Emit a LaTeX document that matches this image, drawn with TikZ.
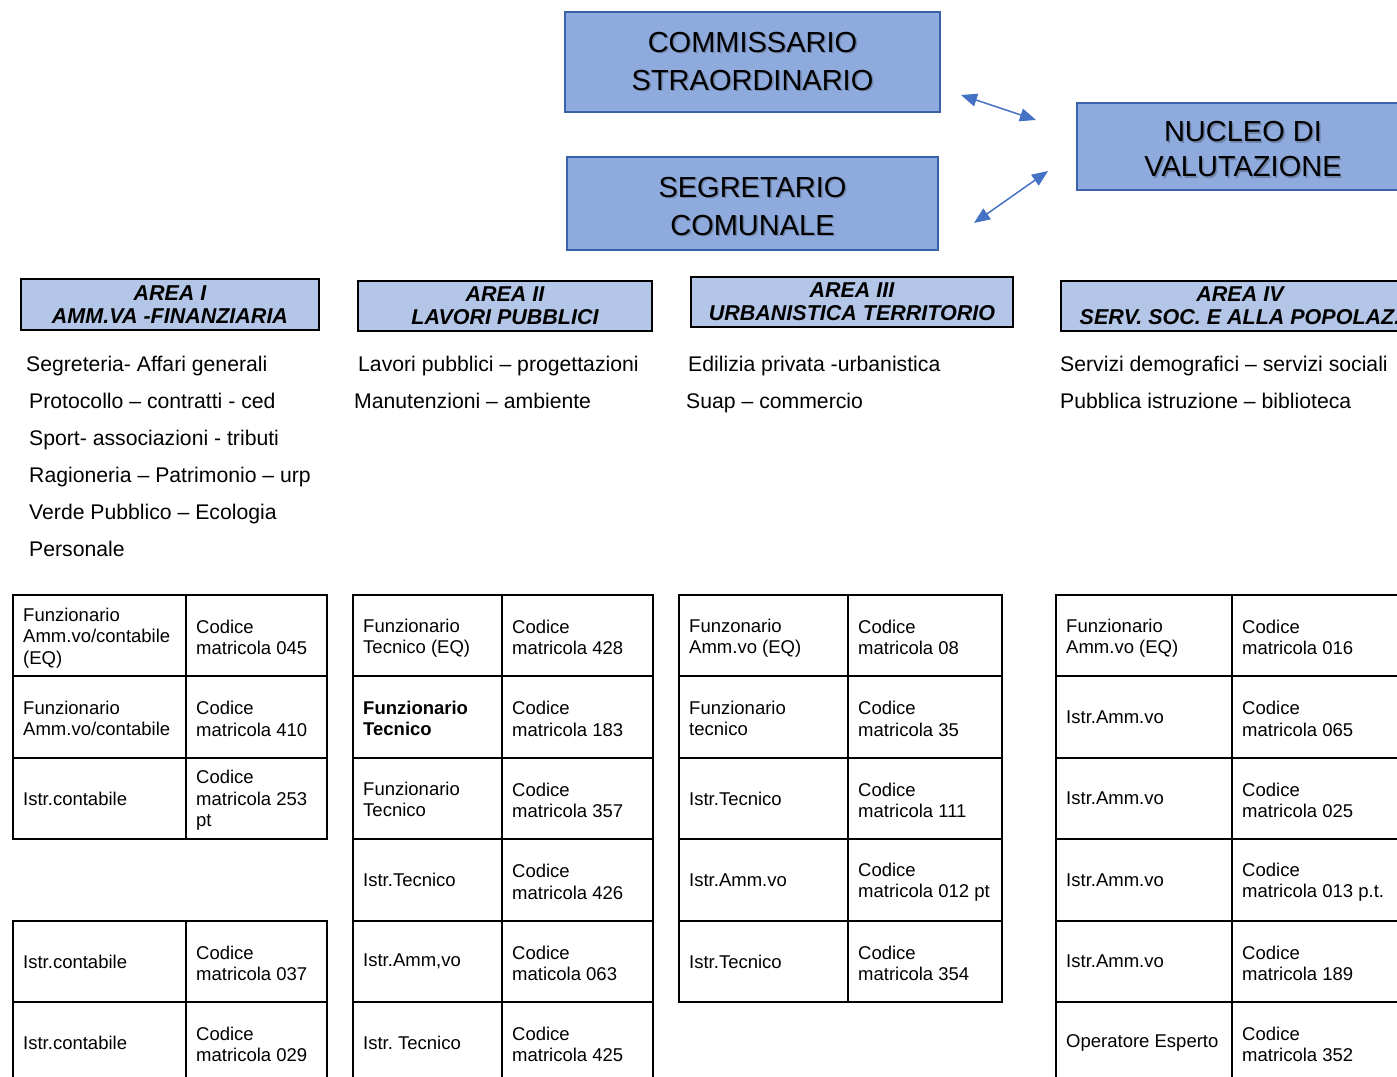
\documentclass[tikz,border=0pt]{standalone}
\usepackage{fontspec}
\setmainfont{Liberation Sans}
\usetikzlibrary{arrows.meta}
\frenchspacing
\definecolor{topfill}{HTML}{8FAADC}
\definecolor{topborder}{HTML}{3A62A8}
\definecolor{areafill}{HTML}{B4C6E7}
\definecolor{arrowblue}{HTML}{4472C4}
\newcommand\cellrow[9]{%
  \draw[cellline] (#2,#5) rectangle (#3,#6) (#3,#5) rectangle (#4,#6);
  \node[celltext] (#1L) at ({#2+10},{(#5+#6)/2+#9}) {#7};
  \node[celltext] (#1R) at ({#3+10},{(#5+#6)/2+2}) {#8};
}
\newcommand\toptitle[4]{%
  \node[topshadow] (#1S) at ({#2+1.5},{#3+1.5}) {#4};
  \node[toptext] (#1T) at (#2,#3) {#4};
}
\begin{document}
\begin{tikzpicture}[x=1pt,y=-1pt,
  topbox/.style={draw=topborder, fill=topfill, line width=2.5pt, inner sep=0pt},
  toptext/.style={align=center, inner sep=0pt, font=\fontsize{29}{38}\selectfont},
  topshadow/.style={toptext, text=black, text opacity=0.22},
  areabox/.style={draw=black, fill=areafill, line width=2pt, align=center, inner sep=0pt,
    font=\fontsize{21.5}{23}\selectfont\bfseries\itshape},
  listtext/.style={anchor=base west, inner sep=0pt, font=\fontsize{21.2}{25}\selectfont},
  celltext/.style={anchor=west, align=left, inner sep=0pt, font=\fontsize{18.5}{21.5}\selectfont},
  cellline/.style={draw=black, line width=2pt},
  biarrow/.style={draw=arrowblue, line width=1.5pt,
    {Triangle[length=16pt,width=13pt]}-{Triangle[length=16pt,width=13pt]}}
]
\useasboundingbox (0,0) rectangle (1397,1076);
\clip (0,0) rectangle (1397,1076);

% top boxes
\node[topbox, minimum width=375pt, minimum height=100pt] (comm) at (752.5,62) {};
\node[topbox, minimum width=371pt, minimum height=93pt] (segr) at (752.5,203.5) {};
\node[topbox, minimum width=332pt, minimum height=87pt] (nucl) at (1243,146.5) {};
\toptitle{commtx}{752.5}{61.5}{COMMISSARIO\\STRAORDINARIO}
\toptitle{segrtx}{752.5}{206.5}{SEGRETARIO\\COMUNALE}
\node[topshadow, font=\fontsize{29}{35}\selectfont] (nucltxS) at (1244.5,151) {NUCLEO DI\\VALUTAZIONE};
\node[toptext, font=\fontsize{29}{35}\selectfont] (nucltxT) at (1243,149.5) {NUCLEO DI\\VALUTAZIONE};

% arrows
\coordinate (a1s) at (961,95);
\coordinate (a1e) at (1036,120);
\coordinate (a2s) at (974,223);
\coordinate (a2e) at (1048,171);
\draw[biarrow] (a1s) -- (a1e);
\draw[biarrow] (a2s) -- (a2e);

% area headers
\node[areabox, minimum width=298pt, minimum height=51pt] (ar1) at (170,304.5) {AREA I\\AMM.VA -FINANZIARIA};
\node[areabox, minimum width=294pt, minimum height=50pt] (ar2) at (505,306) {AREA II\\LAVORI PUBBLICI};
\node[areabox, minimum width=322pt, minimum height=50pt] (ar3) at (852,302) {AREA III\\URBANISTICA TERRITORIO};
\node[areabox, minimum width=358pt, minimum height=50pt] (ar4) at (1240,306) {AREA IV\\SERV. SOC. E ALLA POPOLAZ.};

% lists
\node[listtext] (l11) at (26,371) {Segreteria- Affari generali};
\node[listtext] (l12) at (29,408) {Protocollo – contratti - ced};
\node[listtext] (l13) at (29,445) {Sport- associazioni - tributi};
\node[listtext] (l14) at (29,482) {Ragioneria – Patrimonio – urp};
\node[listtext] (l15) at (29,519) {Verde Pubblico – Ecologia};
\node[listtext] (l16) at (29,556) {Personale};

\node[listtext] (l21) at (358,371) {Lavori pubblici – progettazioni};
\node[listtext] (l22) at (354,408) {Manutenzioni – ambiente};

\node[listtext] (l31) at (688,371) {Edilizia privata -urbanistica};
\node[listtext] (l32) at (686,408) {Suap – commercio};

\node[listtext] (l41) at (1060,371) {Servizi demografici – servizi sociali};
\node[listtext] (l42) at (1060,408) {Pubblica istruzione – biblioteca};

% table I
\cellrow{ta1}{13}{186}{327}{595}{676}{Funzionario\\Amm.vo/contabile\\(EQ)}{Codice\\matricola 045}{2.5}
\cellrow{ta2}{13}{186}{327}{676}{758}{Funzionario\\Amm.vo/contabile}{Codice\\matricola 410}{1.5}
\cellrow{ta3}{13}{186}{327}{758}{839}{Istr.contabile}{Codice\\matricola 253\\pt}{0}
\cellrow{ta4}{13}{186}{327}{921}{1002}{Istr.contabile}{Codice\\matricola 037}{0}
\cellrow{ta5}{13}{186}{327}{1002}{1083}{Istr.contabile}{Codice\\matricola 029}{0}

% table II
\cellrow{tb1}{353}{502}{653}{595}{676}{Funzionario\\Tecnico (EQ)}{Codice\\matricola 428}{2.5}
\cellrow{tb2}{353}{502}{653}{676}{758}{\textbf{Funzionario}\\\textbf{Tecnico}}{Codice\\matricola 183}{1.5}
\cellrow{tb3}{353}{502}{653}{758}{839}{Funzionario\\Tecnico}{Codice\\matricola 357}{1}
\cellrow{tb4}{353}{502}{653}{839}{921}{Istr.Tecnico}{Codice\\matricola 426}{0}
\cellrow{tb5}{353}{502}{653}{921}{1002}{Istr.Amm,vo}{Codice\\maticola 063}{0}
\cellrow{tb6}{353}{502}{653}{1002}{1083}{Istr. Tecnico}{Codice\\matricola 425}{0}

% table III
\cellrow{tc1}{679}{848}{1002}{595}{676}{Funzonario\\Amm.vo (EQ)}{Codice\\matricola 08}{2.5}
\cellrow{tc2}{679}{848}{1002}{676}{758}{Funzionario\\tecnico}{Codice\\matricola 35}{1.5}
\cellrow{tc3}{679}{848}{1002}{758}{839}{Istr.Tecnico}{Codice\\matricola 111}{0}
\cellrow{tc4}{679}{848}{1002}{839}{921}{Istr.Amm.vo}{Codice\\matricola 012 pt}{0}
\cellrow{tc5}{679}{848}{1002}{921}{1002}{Istr.Tecnico}{Codice\\matricola 354}{0}

% table IV
\cellrow{td1}{1056}{1232}{1420}{595}{676}{Funzionario\\Amm.vo (EQ)}{Codice\\matricola 016}{2.5}
\cellrow{td2}{1056}{1232}{1420}{676}{758}{Istr.Amm.vo}{Codice\\matricola 065}{0}
\cellrow{td3}{1056}{1232}{1420}{758}{839}{Istr.Amm.vo}{Codice\\matricola 025}{0}
\cellrow{td4}{1056}{1232}{1420}{839}{921}{Istr.Amm.vo}{Codice\\matricola 013 p.t.}{0}
\cellrow{td5}{1056}{1232}{1420}{921}{1002}{Istr.Amm.vo}{Codice\\matricola 189}{0}
\cellrow{td6}{1056}{1232}{1420}{1002}{1083}{Operatore Esperto}{Codice\\matricola 352}{0}
\end{tikzpicture}
\end{document}
